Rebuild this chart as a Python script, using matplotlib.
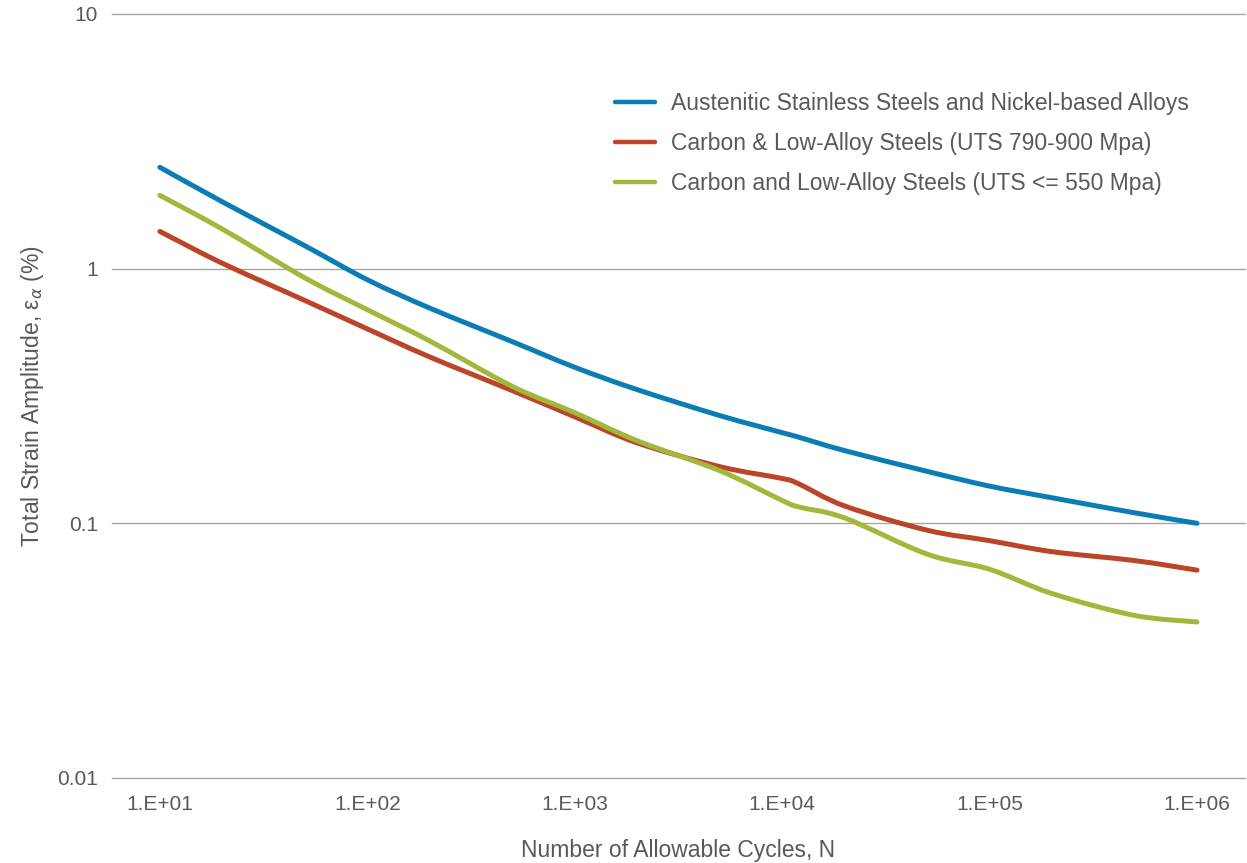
import numpy as np
import matplotlib
matplotlib.use("Agg")
import matplotlib.pyplot as plt
from matplotlib.path import Path
from matplotlib.patches import PathPatch

# cycles (ASME-style table points)
cycles = [1e1, 2e1, 5e1, 1e2, 2e2, 5e2, 1e3, 2e3, 5e3, 1e4, 1.2e4, 2e4, 5e4, 1e5, 2e5, 5e5, 1e6]

# total strain amplitude (%)
austenitic = [2.50, 1.83, 1.23, 0.905, 0.70, 0.517, 0.41, 0.335, 0.265, 0.227, 0.218, 0.193, 0.16, 0.14, 0.126, 0.11, 0.10]
carbon_high = [1.40, 1.05, 0.75, 0.58, 0.45, 0.332, 0.262, 0.207, 0.167, 0.150, 0.143, 0.117, 0.094, 0.0855, 0.0774, 0.0714, 0.0655]
carbon_low = [1.94, 1.43, 0.92, 0.69, 0.52, 0.345, 0.272, 0.211, 0.161, 0.123, 0.116, 0.105, 0.0757, 0.066, 0.053, 0.0435, 0.041]

labels = ["Austenitic Stainless Steels and Nickel-based Alloys",
          "Carbon & Low-Alloy Steels (UTS 790-900 Mpa)",
          "Carbon and Low-Alloy Steels (UTS <= 550 Mpa)"]
colors = ["#0a7db5", "#bb4429", "#a2b83c"]
xticks = [1e1, 1e2, 1e3, 1e4, 1e5, 1e6]
xticklabels = ["1.E+01", "1.E+02", "1.E+03", "1.E+04", "1.E+05", "1.E+06"]
yticks = [0.01, 0.1, 1, 10]
yticklabels = ["0.01", "0.1", "1", "10"]

plt.rcParams['font.family'] = ['Liberation Sans', 'DejaVu Sans']
txt = "#595959"


def smooth_path(x, y):
    # Excel-like smoothed line: Catmull-Rom -> cubic bezier, built in log space
    lx = np.log10(x)
    ly = np.log10(y)
    pts = np.column_stack([lx, ly])
    n = len(pts)
    verts = [pts[0]]
    codes = [Path.MOVETO]
    for i in range(n - 1):
        p0 = pts[i - 1] if i > 0 else pts[i]
        p1 = pts[i]
        p2 = pts[i + 1]
        p3 = pts[i + 2] if i + 2 < n else pts[i + 1]
        c1 = p1 + (p2 - p0) / 6.0
        c2 = p2 - (p3 - p1) / 6.0
        verts += [c1, c2, p2]
        codes += [Path.CURVE4] * 3
    verts = 10 ** np.array(verts)
    return Path(verts, codes)


fig = plt.figure(figsize=(12.47, 8.63), dpi=100)
ax = fig.add_axes([0.0898, 0.0985, 0.9085, 0.8853])
ax.set_xscale('log')
ax.set_yscale('log')

for series, c, lab in zip([austenitic, carbon_high, carbon_low], colors, labels):
    patch = PathPatch(smooth_path(cycles, series), facecolor='none', edgecolor=c,
                      lw=3.6, capstyle='round', joinstyle='round', zorder=3)
    ax.add_patch(patch)
    ax.plot([], [], color=c, lw=3.2, solid_capstyle='round', label=lab)

ax.set_xlim(10 ** 0.769, 10 ** 6.231)
ax.set_ylim(0.01, 10)
ax.set_xticks(xticks)
ax.set_xticklabels(xticklabels)
ax.set_yticks(yticks)
ax.set_yticklabels(yticklabels)
ax.minorticks_off()
ax.tick_params(axis='x', length=0, pad=12, labelsize=15, colors=txt)
ax.tick_params(axis='y', length=0, pad=10, labelsize=15, colors=txt)
for s in ax.spines.values():
    s.set_visible(False)
ax.grid(True, axis='y', color='#a6a6a6', lw=1.0)
for gl in ax.get_ygridlines():
    gl.set_clip_on(False)
ax.set_axisbelow(True)

ax.set_xlabel("Number of Allowable Cycles, N", fontsize=16.5, color=txt, labelpad=18)
ax.set_ylabel(r"Total Strain Amplitude, ε$_\alpha$ (%)", fontsize=16.5, color=txt, labelpad=8)

leg = ax.legend(loc='upper left', bbox_to_anchor=(0.444, 0.8974), frameon=False,
                fontsize=16.5, handlelength=1.75, handletextpad=0.7, labelspacing=0.73,
                borderpad=0, borderaxespad=0)
for t in leg.get_texts():
    t.set_color(txt)

fig.savefig("out.png", dpi=100)
